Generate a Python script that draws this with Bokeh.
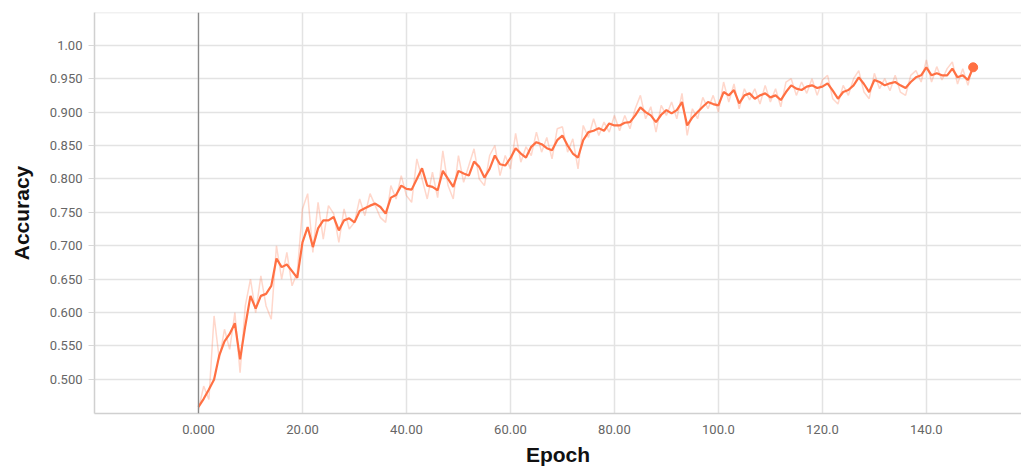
from bokeh.plotting import figure
from bokeh.models import Range1d, FixedTicker, Span
from bokeh.embed import file_html
from bokeh.resources import INLINE

epochs = list(range(150))

smoothed = [
    0.459, 0.471, 0.485, 0.500, 0.536, 0.557, 0.568, 0.584, 0.530, 0.580,
    0.625, 0.606, 0.625, 0.628, 0.640, 0.681, 0.668, 0.672, 0.662, 0.652,
    0.705, 0.728, 0.698, 0.726, 0.738, 0.738, 0.743, 0.723, 0.738, 0.741,
    0.735, 0.752, 0.756, 0.760, 0.763, 0.758, 0.748, 0.772, 0.776, 0.790,
    0.785, 0.784, 0.800, 0.816, 0.790, 0.788, 0.783, 0.812, 0.800, 0.788,
    0.812, 0.808, 0.805, 0.826, 0.818, 0.802, 0.815, 0.835, 0.822, 0.820,
    0.831, 0.846, 0.838, 0.832, 0.848, 0.855, 0.852, 0.846, 0.843, 0.858,
    0.865, 0.850, 0.838, 0.832, 0.858, 0.870, 0.872, 0.876, 0.872, 0.883,
    0.880, 0.880, 0.884, 0.885, 0.895, 0.907, 0.900, 0.895, 0.885, 0.896,
    0.903, 0.898, 0.903, 0.915, 0.880, 0.892, 0.900, 0.908, 0.915, 0.912,
    0.910, 0.930, 0.925, 0.933, 0.913, 0.925, 0.928, 0.920, 0.925, 0.928,
    0.922, 0.925, 0.918, 0.930, 0.940, 0.935, 0.933, 0.938, 0.940, 0.936,
    0.938, 0.943, 0.932, 0.920, 0.930, 0.933, 0.940, 0.952, 0.942, 0.930,
    0.948, 0.945, 0.940, 0.943, 0.945, 0.940, 0.936, 0.945, 0.952, 0.955,
    0.967, 0.955, 0.958, 0.955, 0.955, 0.965, 0.952, 0.955, 0.948, 0.967,
]

raw = [
    0.455, 0.490, 0.470, 0.595, 0.530, 0.575, 0.545, 0.600, 0.510, 0.610,
    0.650, 0.600, 0.655, 0.610, 0.590, 0.700, 0.650, 0.690, 0.640, 0.660,
    0.755, 0.778, 0.690, 0.765, 0.710, 0.760, 0.748, 0.705, 0.755, 0.725,
    0.735, 0.770, 0.745, 0.778, 0.760, 0.742, 0.735, 0.790, 0.770, 0.805,
    0.775, 0.765, 0.830, 0.800, 0.770, 0.810, 0.772, 0.842, 0.790, 0.770,
    0.835, 0.795, 0.820, 0.845, 0.800, 0.790, 0.835, 0.850, 0.805, 0.835,
    0.815, 0.868, 0.825, 0.848, 0.835, 0.870, 0.840, 0.862, 0.830, 0.875,
    0.878, 0.840, 0.860, 0.815, 0.880, 0.862, 0.890, 0.865, 0.885, 0.870,
    0.895, 0.872, 0.895, 0.875, 0.905, 0.925, 0.890, 0.908, 0.870, 0.910,
    0.895, 0.915, 0.890, 0.928, 0.865, 0.905, 0.890, 0.922, 0.905, 0.925,
    0.900, 0.945, 0.915, 0.942, 0.905, 0.935, 0.918, 0.935, 0.912, 0.940,
    0.915, 0.935, 0.908, 0.945, 0.950, 0.925, 0.945, 0.928, 0.950, 0.925,
    0.948, 0.955, 0.920, 0.912, 0.940, 0.925, 0.950, 0.962, 0.930, 0.920,
    0.958, 0.935, 0.950, 0.932, 0.955, 0.930, 0.925, 0.955, 0.962, 0.945,
    0.978, 0.945, 0.968, 0.948, 0.965, 0.975, 0.942, 0.965, 0.940, 0.972,
]

x_ticks = [0, 20, 40, 60, 80, 100, 120, 140]
x_tick_labels = ["0.000", "20.00", "40.00", "60.00", "80.00", "100.0", "120.0", "140.0"]
y_ticks = [0.50, 0.55, 0.60, 0.65, 0.70, 0.75, 0.80, 0.85, 0.90, 0.95, 1.00]
y_tick_labels = ["0.500", "0.550", "0.600", "0.650", "0.700", "0.750",
                 "0.800", "0.850", "0.900", "0.950", "1.00"]

COLOR = "#ff7043"

p = figure(width=1021, height=468, output_backend="svg", toolbar_location=None,
           x_range=Range1d(-20, 158.3), y_range=Range1d(0.449, 1.049),
           min_border_left=94, min_border_top=12, min_border_right=0,
           min_border_bottom=55)

p.outline_line_color = None
p.background_fill_color = "white"
p.border_fill_color = "white"

# grids
p.xgrid.ticker = FixedTicker(ticks=x_ticks)
p.ygrid.ticker = FixedTicker(ticks=y_ticks + [1.0485])
p.xgrid.grid_line_color = "#e3e3e3"
p.ygrid.grid_line_color = "#e3e3e3"
p.xgrid.grid_line_width = 1.5
p.ygrid.grid_line_width = 1.5

zero_line = Span(location=0, dimension="height", line_color="#8a8a8a", line_width=1.3)
p.add_layout(zero_line)

# axes
p.xaxis.ticker = FixedTicker(ticks=x_ticks)
p.xaxis.major_label_overrides = {t: l for t, l in zip(x_ticks, x_tick_labels)}
p.yaxis.ticker = FixedTicker(ticks=y_ticks)
p.yaxis.major_label_overrides = {t: l for t, l in zip(y_ticks, y_tick_labels)}

for ax in (p.xaxis[0], p.yaxis[0]):
    ax.axis_line_color = "#d0d0d0"
    ax.axis_line_width = 1.5
    ax.minor_tick_line_color = None
    ax.major_label_text_font = "Roboto"
    ax.major_label_text_font_size = "13px"
    ax.major_label_text_color = "#666666"
    ax.axis_label_text_font = "Liberation Sans"
    ax.axis_label_text_font_style = "bold"
    ax.axis_label_text_font_size = "21px"
    ax.axis_label_text_color = "#111111"

p.xaxis.major_tick_line_color = None
p.xaxis.major_label_standoff = 5
p.xaxis.axis_label_standoff = 6
p.yaxis.major_tick_line_color = "#d8d8d8"
p.yaxis.major_tick_in = 0
p.yaxis.major_tick_out = 6
p.yaxis.major_label_standoff = 6
p.yaxis.axis_label_standoff = 14

p.xaxis.axis_label = "Epoch"
p.yaxis.axis_label = "Accuracy"

# raw (faded) and smoothed series
p.line(epochs, raw, line_color=COLOR, line_alpha=0.28, line_width=1.5)
p.line(epochs, smoothed, line_color=COLOR, line_width=2.2)
p.scatter([epochs[-1]], [smoothed[-1]], size=9, fill_color=COLOR, line_color=COLOR)

open("out.html", "w").write(file_html(p, INLINE))
